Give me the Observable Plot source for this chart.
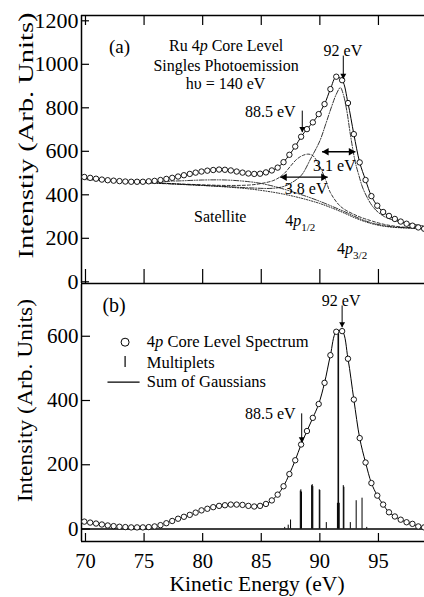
<!DOCTYPE html>
<html><head><meta charset="utf-8">
<script src="https://cdn.jsdelivr.net/npm/d3@7"></script>
<script src="https://cdn.jsdelivr.net/npm/@observablehq/plot@0.6"></script>
<style>
html,body{margin:0;padding:0;background:#fff;}
#chart{width:424px;height:597px;overflow:hidden;background:#fff;}
#chart svg{display:block;}
</style></head><body><div id="chart"></div>
<script>
// ---------- data ----------
const energy = [69.9,70.4,70.9,71.4,71.9,72.4,72.9,73.4,73.9,74.4,74.9,75.4,75.9,76.4,76.9,77.4,77.9,78.4,78.9,79.4,79.9,80.4,80.9,81.4,81.9,82.4,82.9,83.4,83.9,84.4,84.9,85.4,85.9,86.4,86.9,87.4,87.9,88.4,88.9,89.4,89.9,90.4,90.9,91.4,91.9,92.4,92.9,93.4,93.9,94.4,94.9,95.4,95.9,96.4,96.9,97.4,97.9,98.4,98.9];
const spectrumA = [482,478,474,470,467,465,463,461,460,460,460,462,464,468,473,478,484,490,496,502,507,511,514,516,515,512,507,502,498,496,497,503,512,525,550,584,622,667,702,733,771,817,886,943,927,822,679,549,468,394,350,321,303,289,277,267,258,250,244];
const spectrumB = [23,20,17,14,11,9,7,6,5,5,5,6,8,12,18,25,32,38,44,51,58,63,68,72,74,76,76,75,72,70,72,78,89,107,133,171,214,263,305,346,389,455,541,614,616,530,403,283,207,143,104,76,52,39,29,21,16,8,5];

const bgEnergy = [69.9,72,74,76,78,80,82,84,86,87,88,89,90,91,92,93,94,95,96,97,98,98.9];
const bgLevel  = [470,465,460,455,449,443,436,427,412,402,390,376,360,340,318,294,274,260,252,248,246,245];
const satEnergy = [69.9,72,74,76,78,80,82,84,85,86,87,88,89,90,92,94,96,98.9];
const satLevel  = [476,466,461,461,464,468,468,460,452,440,425,408,390,370,325,278,254,246];
const p12Energy = [74,76,78,80,82,84,85,86,86.6,87,87.5,88,88.5,89,89.4,89.9,90.5,90.9,91.8,93.2,94.3,95.5,97,98.9];
const p12Level  = [460,455,450,446,443,445,452,465,482,500,532,562,580,587,580,540,468,410,345,303,282,264,252,247];
const p32Energy = [74,78,82,84,86,87,88,88.5,89.2,90,90.5,91,91.4,91.75,92,92.3,92.6,93,93.3,93.75,94.6,95.5,96.5,97.5,98.9];
const p32Level  = [458,448,438,432,430,440,470,495,564,648,725,805,862,893,862,786,679,556,495,420,340,300,280,268,257];

const multipletEnergy    = [87.0,87.3,87.5,88.33,88.38,88.43,89.3,89.35,89.4,89.95,90.0,90.55,91.5,91.55,91.6,91.65,92.0,92.05,92.6,93.1,93.6,94.0];
const multipletIntensity = [5,12,28,118,122,115,135,138,132,122,120,20,80,612,608,80,135,130,20,88,96,5];

const xTicks = [70,75,80,85,90,95];
const topYTicks = [0,200,400,600,800,1000,1200];
const botYTicks = [0,200,400,600];

// ---------- setup ----------
const xDomain = [69.66, 98.93];
const topDomain = [-7.8, 1224.4];
const botDomain = [-38.9, 761.1];
const serif = "'Liberation Serif','Times New Roman',serif";

const zip = (xs, ys) => xs.map((x, i) => ({x, y: ys[i]}));
const ptsA = zip(energy, spectrumA);
const ptsB = zip(energy, spectrumB);
const fitA = ptsA.filter(d => d.x >= 84.4);
const fitB = ptsB.filter(d => d.x >= 84.4);
const multiplets = zip(multipletEnergy, multipletIntensity);

function vArrow(list, r) {
  return [
    Plot.link(list, {x1: "x", x2: "x", y1: "y1", y2: "y2", stroke: "black", strokeWidth: 1}),
    Plot.dot(list, {x: "x", y: "y2", symbol: "triangle", rotate: 180, r, fill: "black", stroke: null, dy: -2 * Math.sqrt(r*r*Math.PI/(Math.sqrt(3)*3))})
  ];
}
function hArrow(list, r) {
  const off = 2 * Math.sqrt(r*r*Math.PI/(Math.sqrt(3)*3));
  return [
    Plot.link(list, {x1: "x1", x2: "x2", y1: "y", y2: "y", stroke: "black", strokeWidth: 1.3}),
    Plot.dot(list, {x: "x1", y: "y", symbol: "triangle", rotate: -90, r, fill: "black", stroke: null, dx: off}),
    Plot.dot(list, {x: "x2", y: "y", symbol: "triangle", rotate: 90, r, fill: "black", stroke: null, dx: -off})
  ];
}
const txt = (list, opts) => Plot.text(list, {x: "x", y: "y", text: "t", fill: "black", fontFamily: serif, ...opts});

// ---------- top panel ----------
const topInner = 283 - 15;
const topPlot = Plot.plot({
  width: 424, height: 284, marginLeft: 81, marginRight: 0, marginTop: 15, marginBottom: 1,
  style: {fontFamily: serif, background: "white", color: "black", overflow: "visible"},
  x: {domain: xDomain, axis: null},
  y: {domain: topDomain, axis: null},
  marks: [
    Plot.ruleX([xDomain[0]], {strokeWidth: 1.5}),
    Plot.ruleY([topDomain[0], topDomain[1]], {strokeWidth: 1.5}),
    Plot.tickY(topYTicks, {y: d => d, insetRight: 424 - 81 - 8, strokeWidth: 1.2}),
    Plot.tickX(xTicks, {x: d => d, insetTop: topInner - 14, strokeWidth: 1.2}),
    Plot.tickX(xTicks, {x: d => d, insetBottom: topInner - 10, strokeWidth: 1.2}),
    Plot.axisY({ticks: topYTicks, tickSize: 0, tickPadding: 3, fontSize: 22, label: null, tickFormat: "d", fontFamily: serif}),
    Plot.line(zip(bgEnergy, bgLevel), {x: "x", y: "y", stroke: "black", strokeWidth: 0.9, strokeDasharray: "1,1.6", curve: "catmull-rom"}),
    Plot.line(zip(satEnergy, satLevel), {x: "x", y: "y", stroke: "black", strokeWidth: 0.8, strokeDasharray: "5,1.5,1,1.5,1,1.5", curve: "catmull-rom"}),
    Plot.line(zip(p12Energy, p12Level), {x: "x", y: "y", stroke: "black", strokeWidth: 0.8, strokeDasharray: "3,2", curve: "catmull-rom"}),
    Plot.line(zip(p32Energy, p32Level), {x: "x", y: "y", stroke: "black", strokeWidth: 0.8, strokeDasharray: "5,1.5,1,1.5", curve: "catmull-rom"}),
    Plot.line(fitA, {x: "x", y: "y", stroke: "black", strokeWidth: 1, curve: "catmull-rom"}),
    Plot.dot(ptsA, {x: "x", y: "y", r: 2.7, stroke: "black", fill: "white", strokeWidth: 0.9}),
    txt([{x: 72.9, y: 1082, t: "(a)"}], {fontSize: 19}),
    txt([{x: 82.0, y: 1086, t: "Ru 4<i>p</i> Core Level"},
         {x: 82.0, y: 994, t: "Singles Photoemission"},
         {x: 81.95, y: 910, t: "hυ = 140 eV"},
         {x: 91.97, y: 1063, t: "92 eV"},
         {x: 85.77, y: 780, t: "88.5 eV"},
         {x: 91.24, y: 535, t: "3.1 eV"},
         {x: 88.83, y: 425, t: "3.8 eV"},
         {x: 81.5, y: 297, t: "Satellite"}], {fontSize: 16}),
    txt([{x: 87.05, y: 282, t: "4<i>p</i><sub>1/2</sub>"},
         {x: 91.47, y: 153, t: "4<i>p</i><sub>3/2</sub>"}], {fontSize: 16, textAnchor: "start"}),
    ...vArrow([{x: 92.0, y1: 1040, y2: 933}, {x: 88.5, y1: 787, y2: 688}], 2.2),
    ...hArrow([{y: 598, x1: 90.19, x2: 93.03}, {y: 481, x1: 86.62, x2: 90.67}], 2.8),
    Plot.text(["Intenstiy (Arb. Units)"], {frameAnchor: "left", rotate: -90, textAnchor: "start", dx: -55, dy: 109, fontSize: 21, fill: "black", fontFamily: serif})
  ]
});

// ---------- bottom panel ----------
const botInner = 541 - 284;
const botPlot = Plot.plot({
  width: 424, height: 313, marginLeft: 81, marginRight: 0, marginTop: 0, marginBottom: 56,
  style: {fontFamily: serif, background: "none", color: "black"},
  x: {domain: xDomain, axis: null},
  y: {domain: botDomain, axis: null},
  marks: [
    Plot.ruleX([xDomain[0]], {strokeWidth: 1.5}),
    Plot.ruleY([botDomain[0]], {strokeWidth: 1.5}),
    Plot.ruleY([0], {strokeWidth: 1.6}),
    Plot.tickY(botYTicks, {y: d => d, insetRight: 424 - 81 - 9, strokeWidth: 1.2}),
    Plot.tickX(xTicks, {x: d => d, insetTop: botInner - 8, strokeWidth: 1.2}),
    Plot.axisY({ticks: botYTicks, tickSize: 0, tickPadding: 3, fontSize: 21, label: null, tickFormat: "d", fontFamily: serif}),
    Plot.axisX({ticks: xTicks, tickSize: 0, tickPadding: 11.5, fontSize: 20.5, label: null, tickFormat: "d", fontFamily: serif}),
    Plot.ruleX(multiplets, {x: "x", y1: 0, y2: "y", stroke: "black", strokeWidth: 1}),
    Plot.line(fitB, {x: "x", y: "y", stroke: "black", strokeWidth: 1, curve: "catmull-rom"}),
    Plot.dot(ptsB, {x: "x", y: "y", r: 2.7, stroke: "black", fill: "white", strokeWidth: 0.9}),
    txt([{x: 72.44, y: 696, t: "(b)"}], {fontSize: 20}),
    txt([{x: 91.82, y: 711, t: "92 eV"}, {x: 85.77, y: 359, t: "88.5 eV"}], {fontSize: 16}),
    ...vArrow([{x: 91.9, y1: 696, y2: 628}, {x: 88.45, y1: 360, y2: 270}], 2.2),
    // legend
    Plot.dot([{x: 73.38, y: 581.5}], {x: "x", y: "y", r: 4, stroke: "black", fill: "white", strokeWidth: 1}),
    Plot.ruleX([{x: 73.38, y1: 503, y2: 537}], {x: "x", y1: "y1", y2: "y2", stroke: "black", strokeWidth: 1.2}),
    Plot.ruleY([{y: 457, x1: 71.92, x2: 74.66}], {y: "y", x1: "x1", x2: "x2", stroke: "black", strokeWidth: 1.2}),
    txt([{x: 75.23, y: 581.5, t: "4<i>p</i> Core Level Spectrum"},
         {x: 75.23, y: 519, t: "Multiplets"},
         {x: 75.23, y: 457, t: "Sum of Gaussians"}], {fontSize: 16.5, textAnchor: "start"}),
    Plot.text(["Intensity (Arb. Units)"], {frameAnchor: "left", rotate: -90, textAnchor: "start", dx: -56, dy: 89, fontSize: 21, fill: "black", fontFamily: serif}),
    Plot.text(["Kinetic Energy (eV)"], {frameAnchor: "bottom", dy: 49, dx: 4, fontSize: 21.5, fill: "black", fontFamily: serif})
  ]
});

// ---------- rich text (italic / subscript) ----------
function richify(svg) {
  d3.select(svg).selectAll("text").each(function () {
    const el = this;
    const s = el.textContent;
    if (!s.includes("<")) return;
    while (el.firstChild) el.removeChild(el.firstChild);
    const re = /<(i|sub)>(.*?)<\/\1>|([^<]+)/g;
    let m;
    while ((m = re.exec(s))) {
      const ts = document.createElementNS("http://www.w3.org/2000/svg", "tspan");
      if (m[3] !== undefined) ts.textContent = m[3];
      else if (m[1] === "i") { ts.textContent = m[2]; ts.setAttribute("font-style", "italic"); }
      else { ts.textContent = m[2]; ts.setAttribute("font-size", "11px"); ts.setAttribute("dy", "5"); }
      el.appendChild(ts);
    }
  });
}
function stretch(svg, content, len) {
  d3.select(svg).selectAll("text").filter(function () { return this.textContent === content; })
    .attr("textLength", len).attr("lengthAdjust", "spacingAndGlyphs");
}
richify(topPlot); richify(botPlot);
stretch(topPlot, "Intenstiy (Arb. Units)", 246);
stretch(botPlot, "Intensity (Arb. Units)", 203);

const chart = document.getElementById("chart");
chart.appendChild(topPlot);
chart.appendChild(botPlot);
</script></body></html>
